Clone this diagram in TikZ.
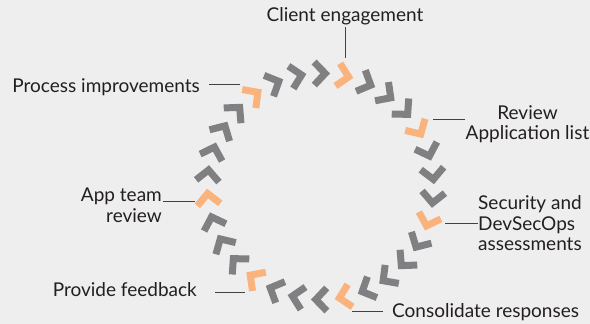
\documentclass[tikz,border=0pt]{standalone}
\usepackage{fontspec}
\setmainfont{Lato}
\definecolor{bg}{HTML}{EEEEEE}
\definecolor{chevgray}{HTML}{808083}
\definecolor{chevorange}{HTML}{FBB37D}
\definecolor{txt}{HTML}{231F20}
\begin{document}
\begin{tikzpicture}[x=1pt, y=1pt, every node/.style={font=\fontsize{19}{20.9}\selectfont, text=txt, inner sep=0pt},
    chev/.style={line width=7pt, line join=miter, line cap=butt},
    lbl/.style={draw=txt!85, line width=.9pt}]
  \fill[bg] (0,0) rectangle (590,324);
  \useasboundingbox (0,0) rectangle (590,324);
  % ring of chevrons
  \begin{scope}[shift={(320.5,137.5)}]
    \foreach \i in {1,2,3,5,6,7,9,10,11,13,14,15,16,18,19,20,22,23,24,26,27,28,29}
      \draw [chev,chevgray,shift={({126.4-12*\i}:113)},rotate={36.4-12*\i}] (-5.5,11.5) -- (5.5,0) -- (-5.5,-11.5);
    \foreach \i in {0,4,8,12,17,21,25}
      \draw [chev,chevorange,shift={({126.4-12*\i}:113)},rotate={36.4-12*\i}] (-5.5,11.5) -- (5.5,0) -- (-5.5,-11.5);
  \end{scope}
  % labels
  \node [anchor=base] (client) at (345,302.3) {Client engagement};
  \node [anchor=base east] (process) at (200,231.3) {Process improvements};
  \node [anchor=north,align=center] (review) at (527.5,219) {Review\\Application list};
  \node [anchor=north west,align=left] (security) at (478,129) {Security and\\DevSecOps\\assessments};
  \node [anchor=base west] (consolidate) at (392,6) {Consolidate responses};
  \node [anchor=base east] (feedback) at (197,27.3) {Provide feedback};
  \node [anchor=north east,align=right] (appteam) at (162,136) {App team\\review};
  % leader lines
  \coordinate (clientend) at (345,266);
  \coordinate (processend) at (240,240);
  \coordinate (reviewend) at (433,205);
  \coordinate (securityend) at (445,100.7);
  \coordinate (consolidateend) at (352,12.3);
  \coordinate (feedbackend) at (245,31.7);
  \coordinate (appteamend) at (195,123);
  \draw [lbl] ([yshift=-2pt]client.south) -- (clientend);
  \draw [lbl] ([shift={(9,8.7)}]process.base east) -- (processend);
  \draw [lbl] ([xshift=-62.5pt]review.north |- reviewend) -- (reviewend);
  \draw [lbl] (security.west |- securityend) -- (securityend);
  \draw [lbl] ([shift={(-9,6.3)}]consolidate.base west) -- (consolidateend);
  \draw [lbl] ([shift={(18,4.4)}]feedback.base east) -- (feedbackend);
  \draw [lbl] ([xshift=1pt]appteam.east |- appteamend) -- (appteamend);
\end{tikzpicture}
\end{document}
